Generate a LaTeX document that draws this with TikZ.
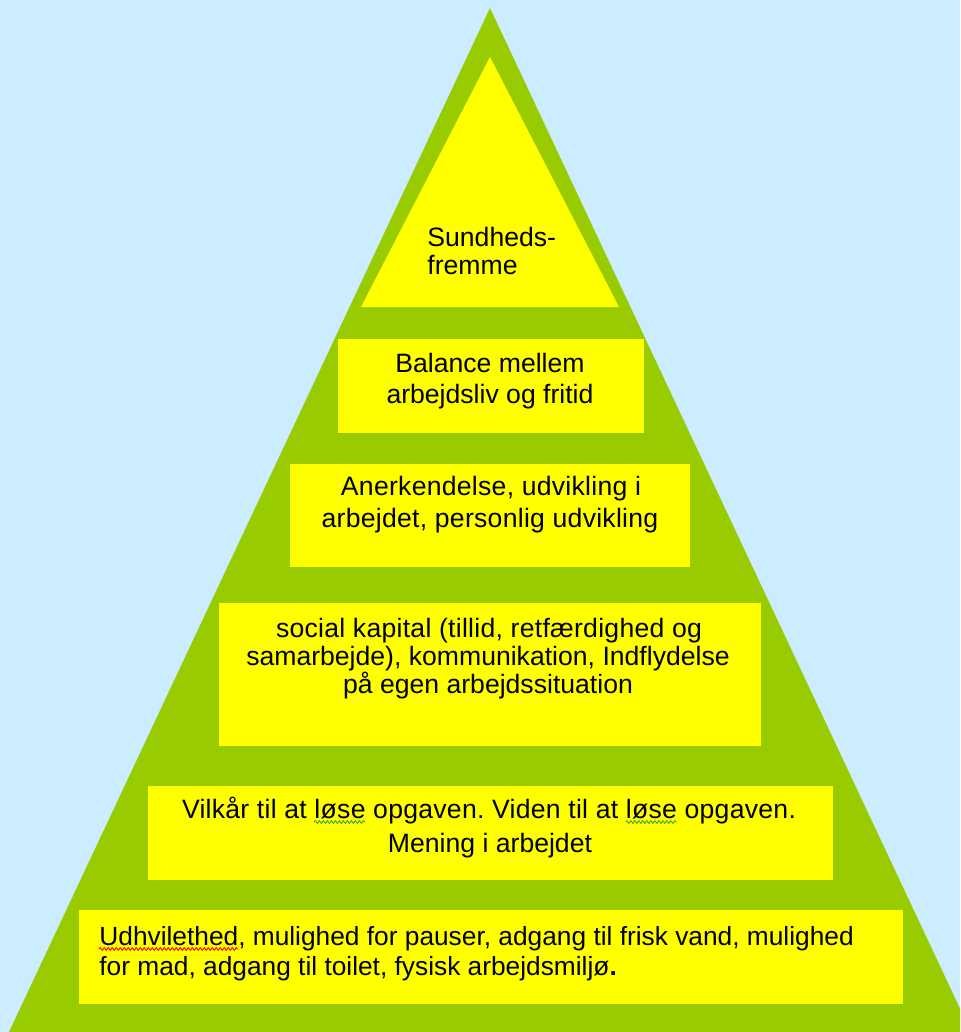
\documentclass[tikz,border=0pt]{standalone}
\usepackage{fontspec}
\setmainfont{Liberation Sans}
\usetikzlibrary{decorations.pathmorphing}
\definecolor{bgblue}{HTML}{CCECFF}
\definecolor{pgreen}{HTML}{99CC00}
\definecolor{pyellow}{HTML}{FFFF00}
\definecolor{wavered}{HTML}{FF0000}
\definecolor{wavegreen}{HTML}{3CAA3C}
\frenchspacing
\newcommand\pyrfont{\fontsize{13.3}{15.5}\selectfont}
\newcommand\basefont{\fontsize{13.15}{15.5}\selectfont}
\newcommand\widefont{\fontsize{13.3}{15.5}\selectfont\addfontfeature{LetterSpace=1}}
\newlength\wUdh \newlength\wPreA \newlength\wPreB \newlength\wLose
\settowidth{\wUdh}{\basefont Udhvilethed}
\settowidth{\wPreA}{\widefont Vilkår til at }
\settowidth{\wPreB}{\widefont Vilkår til at løse opgaven. Viden til at }
\settowidth{\wLose}{\widefont løse}
\tikzset{
  lvl/.style={fill=pyellow},
  txt/.style={font=\pyrfont, inner sep=0pt, text=black},
  btxt/.style={font=\basefont, inner sep=0pt, text=black},
  wtxt/.style={font=\widefont, inner sep=0pt, text=black},
  spell/.style={line width=0.45pt, decorate, decoration={snake, amplitude=0.7pt, segment length=2pt}},
}
\begin{document}
\begin{tikzpicture}[x=0.5pt,y=-0.5pt]
\useasboundingbox (0,0) rectangle (960,1032);
\clip (0,0) rectangle (960,1032);
\fill[bgblue] (0,0) rectangle (960,1032);
% pyramid
\fill[pgreen] (490,8) -- (971,1032) -- (9,1032) -- cycle;
% top triangle
\fill[lvl] (490,57) -- (619,307) -- (361,307) -- cycle;
% levels
\fill[lvl] (338,339) rectangle (644,433);
\fill[lvl] (290,464) rectangle (690,567);
\fill[lvl] (219,603) rectangle (761,746);
\fill[lvl] (148,786) rectangle (833,880);
\fill[lvl] (79,910) rectangle (903,1004);
% texts
\node[txt, anchor=base west] (s1) at (427,247) {Sundheds-};
\node[txt, anchor=base west] (s2) at (427,274) {fremme};
\node[txt, anchor=base] (b1) at (490,372) {Balance mellem};
\node[txt, anchor=base] (b2) at (490,403) {arbejdsliv og fritid};
\node[wtxt, anchor=base] (a1) at (491,495) {Anerkendelse, udvikling i};
\node[wtxt, anchor=base] (a2) at (490,527) {arbejdet, personlig udvikling};
\node[wtxt, anchor=base] (k1) at (489,637) {social kapital (tillid, retfærdighed og};
\node[txt, anchor=base] (k2) at (488,665) {samarbejde), kommunikation, Indflydelse};
\node[txt, anchor=base] (k3) at (488,693) {på egen arbejdssituation};
\node[wtxt, anchor=base] (v1) at (489,818) {Vilkår til at løse opgaven. Viden til at løse opgaven.};
\node[txt, anchor=base] (v2) at (490,852) {Mening i arbejdet};
\node[btxt, anchor=base west] (u1) at (99,945) {Udhvilethed, mulighed for pauser, adgang til frisk vand, mulighed};
\node[btxt, anchor=base west] (u2) at (99,975) {for mad, adgang til toilet, fysisk arbejdsmiljø\textbf{.}};
% spelling marks
\draw[spell, wavered] ([yshift=-2pt]u1.base west) -- ++(\wUdh,0);
\draw[spell, wavegreen] ([xshift=\wPreA, yshift=-2pt]v1.base west) -- ++(\wLose,0);
\draw[spell, wavegreen] ([xshift=\wPreB, yshift=-2pt]v1.base west) -- ++(\wLose,0);
\end{tikzpicture}
\end{document}
